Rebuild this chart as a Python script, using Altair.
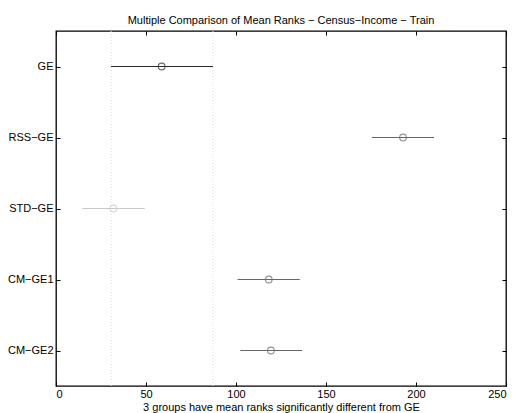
import altair as alt
import pandas as pd

groups = ["GE", "RSS\u2212GE", "STD\u2212GE", "CM\u2212GE1", "CM\u2212GE2"]
lower = [30.6, 175.6, 14.6, 100.9, 102.4]
mean = [58.7, 192.8, 31.9, 118.2, 119.4]
upper = [87.2, 210.0, 49.3, 135.4, 136.7]
status = ["selected", "different", "same", "different", "different"]
x_ticks = [0, 50, 100, 150, 200, 250]

df = pd.DataFrame({"group": groups, "lo": lower, "mean": mean, "hi": upper, "status": status})
ref = pd.DataFrame({"bound": [lower[0], upper[0]]})

FONT = "Liberation Sans"
xscale = alt.Scale(domain=[0, 250], nice=False, zero=False)
yscale = alt.Scale(type="point", domain=groups, padding=0.5)
cscale = alt.Scale(domain=["selected", "different", "same"], range=["#2b2b2b", "#666666", "#c8c8c8"])

common_axis = dict(grid=False, domain=False, tickSize=4, offset=-4, tickColor="black",
                   labelFont=FONT, labelFontSize=11, labelColor="black", titleFont=FONT,
                   titleFontSize=11, titleColor="black", titleFontWeight="normal")

dotted = alt.Chart(ref).mark_rule(strokeDash=[1, 2], color="#dadada", strokeWidth=1).encode(
    x=alt.X("bound:Q", scale=xscale, axis=None)
)

rules = alt.Chart(df).mark_rule(strokeWidth=1.2).encode(
    x=alt.X("lo:Q", scale=xscale,
            axis=alt.Axis(orient="bottom", values=x_ticks, labelPadding=2,
                          title="3 groups have mean ranks significantly different from GE",
                          titlePadding=2, **common_axis)),
    x2="hi:Q",
    y=alt.Y("group:N", scale=yscale, sort=groups,
            axis=alt.Axis(orient="left", title=None, labelPadding=3, **common_axis)),
    color=alt.Color("status:N", scale=cscale, legend=None),
)

points = alt.Chart(df).mark_point(filled=False, size=45, strokeWidth=1.1, shape="circle").encode(
    x=alt.X("mean:Q", scale=xscale,
            axis=alt.Axis(orient="top", values=x_ticks, labels=False, title=None, **common_axis)),
    y=alt.Y("group:N", scale=yscale, sort=groups,
            axis=alt.Axis(orient="right", labels=False, title=None, **common_axis)),
    color=alt.Color("status:N", scale=cscale, legend=None),
)

chart = alt.layer(dotted, rules, points).resolve_axis(x="independent", y="independent").properties(
    width=450, height=355,
    title=alt.Title("Multiple Comparison of Mean Ranks \u2212 Census\u2212Income \u2212 Train",
                    font=FONT, fontSize=11, fontWeight="normal", color="black", offset=5),
    autosize=alt.AutoSizeParams(type="none"),
    padding={"left": 48, "top": 23, "right": 5, "bottom": 30},
).configure_view(stroke="black", strokeWidth=1.3)

chart.save("out.html", embed_options={"renderer": "svg", "actions": False})
